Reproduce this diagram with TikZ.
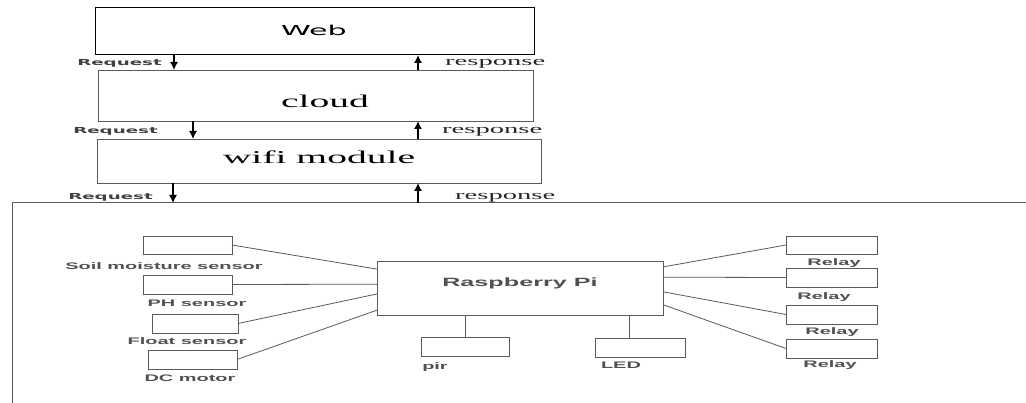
\documentclass[tikz,border=0pt]{standalone}
\usepackage{fontspec}
\usetikzlibrary{arrows.meta,calc}
\newfontfamily\wserif[FakeStretch=2.2]{Liberation Serif}
\newfontfamily\wdeja[FakeStretch=2.2]{DejaVu Sans}
\newfontfamily\wsans[FakeStretch=2.1]{Liberation Sans}
\definecolor{ln}{HTML}{5A5A5A}
\definecolor{tx}{HTML}{505050}
\begin{document}
\begin{tikzpicture}[x=1pt,y=-1pt,
 box/.style={draw=ln, line width=0.9pt, anchor=north west, inner sep=0pt, outer sep=0pt},
 topbox/.style={box, draw=black, line width=1pt},
 lbl/.style={anchor=base, inner sep=0pt, text=tx, font=\wsans\bfseries\fontsize{9.5}{10}\selectfont},
 req/.style={anchor=base east, inner sep=0pt, text=black!75, font=\wdeja\bfseries\fontsize{8.3}{10}\selectfont},
 resp/.style={anchor=base west, inner sep=0pt, text=black!85, font=\wserif\fontsize{13}{14}\selectfont},
 big/.style={anchor=base, inner sep=0pt, font=\wserif\fontsize{18}{20}\selectfont},
 arr/.style={-{Latex[length=8pt,width=8pt]}, line width=1.3pt, black},
 wire/.style={draw=ln, line width=0.8pt}]
\useasboundingbox (0,0) rectangle (1026,403);
\fill[white] (0,0) rectangle (1026,403);
% top stack
\node[topbox, minimum width=439pt, minimum height=47pt] (web) at (95,8) {};
\node[box, minimum width=435pt, minimum height=51pt] (cloud) at (98,70) {};
\node[box, minimum width=444pt, minimum height=44pt] (wifi) at (97,139) {};
\node[anchor=base, inner sep=0pt, font=\wdeja\fontsize{13.7}{15}\selectfont] (webt) at (314,36) {Web};
\node[big] (cloudt) at (325,108) {cloud};
\node[big] (wifit) at (319,164) {wifi module};
% frame of the lower part
\coordinate (fl) at (12,403);
\coordinate (ftl) at (12,203);
\coordinate (ftr) at (1026,203);
\draw[ln, line width=1pt] (fl) -- (ftl) -- (ftr);
% arrows
\coordinate (ra1) at (174,0);
\coordinate (ra2) at (193,0);
\coordinate (ra3) at (173,0);
\coordinate (rs) at (418,0);
\draw[arr] (web.south -| ra1) -- (cloud.north -| ra1);
\draw[arr] (cloud.north -| rs) -- (web.south -| rs);
\draw[arr] (cloud.south -| ra2) -- (wifi.north -| ra2);
\draw[arr] (wifi.north -| rs) -- (cloud.south -| rs);
\draw[arr] (wifi.south -| ra3) -- (ftl -| ra3);
\draw[arr] (ftl -| rs) -- (wifi.south -| rs);
\node[req] (rq1) at (162,66) {Request};
\node[resp] (rp1) at (445,66) {response};
\node[req] (rq2) at (158,134) {Request};
\node[resp] (rp2) at (442,134) {response};
\node[req] (rq3) at (153,200) {Request};
\node[resp] (rp3) at (455,200) {response};
% sensors
\node[box, minimum width=89pt, minimum height=18pt] (soil) at (143,236) {};
\node[lbl] (soilt) at (164,270) {Soil moisture sensor};
\node[box, minimum width=89pt, minimum height=19pt] (ph) at (143,275) {};
\node[lbl] (pht) at (197,307) {PH sensor};
\node[box, minimum width=86pt, minimum height=19pt] (float) at (152,314) {};
\node[lbl] (floatt) at (187,345) {Float sensor};
\node[box, minimum width=89pt, minimum height=19pt] (dc) at (148,350) {};
\node[lbl] (dct) at (190,382) {DC motor};
% raspberry pi
\node[box, minimum width=286pt, minimum height=54pt] (rpi) at (377,261) {};
\node[lbl, font=\wsans\bfseries\fontsize{12}{13}\selectfont] (rpit) at (520,287) {Raspberry Pi};
\node[box, minimum width=88pt, minimum height=19pt] (pir) at (421,337) {};
\node[lbl] (pirt) at (435,370) {pir};
\node[box, minimum width=90pt, minimum height=19pt] (led) at (595,338) {};
\node[lbl] (ledt) at (621,369) {LED};
% relays
\node[box, minimum width=91pt, minimum height=18pt] (r1) at (786,236) {};
\node[lbl] (r1t) at (834,266) {Relay};
\node[box, minimum width=91pt, minimum height=19pt] (r2) at (786,268) {};
\node[lbl] (r2t) at (824,300) {Relay};
\node[box, minimum width=91pt, minimum height=19pt] (r3) at (786,305) {};
\node[lbl] (r3t) at (832,335) {Relay};
\node[box, minimum width=91pt, minimum height=19pt] (r4) at (786,339) {};
\node[lbl] (r4t) at (830,368) {Relay};
% wires
\draw[wire] (soil.east) -- ($(rpi.north west)!0.15!(rpi.south west)$);
\draw[wire] (ph.east) -- ($(rpi.north west)!0.43!(rpi.south west)$);
\draw[wire] (float.east) -- ($(rpi.north west)!0.61!(rpi.south west)$);
\draw[wire] (dc.east) -- ($(rpi.north west)!0.91!(rpi.south west)$);
\draw[wire] ($(rpi.north east)!0.11!(rpi.south east)$) -- (r1.west);
\draw[wire] ($(rpi.north east)!0.30!(rpi.south east)$) -- (r2.west);
\draw[wire] ($(rpi.north east)!0.57!(rpi.south east)$) -- (r3.west);
\draw[wire] ($(rpi.north east)!0.81!(rpi.south east)$) -- (r4.west);
\draw[wire] (pir.north |- rpi.south) -- (pir.north);
\coordinate (ledtop) at ($(led.north west)+(34,0)$);
\draw[wire] (ledtop |- rpi.south) -- (ledtop);
\end{tikzpicture}
\end{document}
